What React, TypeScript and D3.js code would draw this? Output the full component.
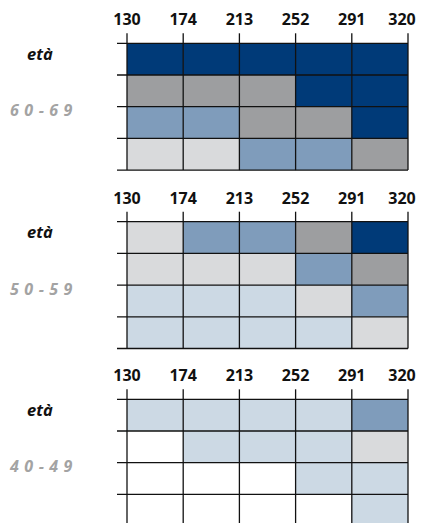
import * as d3 from "d3";
import React from "react";

// column boundaries (tick labels along the top of each panel)
const tickLabels = ["130", "174", "213", "252", "291", "320"];
const rowNames = ["r1", "r2", "r3", "r4"];

// cell levels per panel: 0 white, 1 light blue, 2 light gray, 3 mid blue, 4 gray, 5 navy
const levels60 = [
  [5, 5, 5, 5, 5],
  [4, 4, 4, 5, 5],
  [3, 3, 4, 4, 5],
  [2, 2, 3, 3, 4],
];
const levels50 = [
  [2, 3, 3, 4, 5],
  [2, 2, 2, 3, 4],
  [1, 1, 1, 2, 3],
  [1, 1, 1, 1, 2],
];
const levels40 = [
  [1, 1, 1, 1, 3],
  [0, 1, 1, 1, 2],
  [0, 0, 0, 1, 1],
  [0, 0, 0, 0, 1],
];
const ageLabels = ["60-69", "50-59", "40-49"];

const palette = ["#ffffff", "#ccd9e4", "#d9dadc", "#7f9cbb", "#9d9ea0", "#003a78"];

const W = 423;
const H = 523;
const panelTops = [43.3, 221.7, 399.3];
const rowH = 31.7;

const x = d3.scalePoint<string>().domain(tickLabels).range([127, 408]);

const Panel: React.FC<{ top: number; levels: number[][]; age: string }> = ({
  top,
  levels,
  age,
}) => {
  const y = d3
    .scaleBand<string>()
    .domain(rowNames)
    .range([top, top + rowH * rowNames.length])
    .padding(0);
  const bottom = top + rowH * rowNames.length;
  const step = x.step();
  return (
    <g>
      {levels.map((row, ri) =>
        row.map((lv, ci) => (
          <rect
            key={`${ri}-${ci}`}
            x={x(tickLabels[ci])!}
            y={y(rowNames[ri])!}
            width={step}
            height={y.bandwidth()}
            fill={palette[lv]}
          />
        )),
      )}
      {/* horizontal lines with left ticks */}
      {[...rowNames.map((r) => y(r)!), bottom].map((yy, i) => (
        <line key={`h${i}`} x1={117} x2={408} y1={yy} y2={yy} stroke="#111" strokeWidth={1.3} />
      ))}
      {/* vertical lines with top ticks */}
      {tickLabels.map((t) => (
        <line
          key={`v${t}`}
          x1={x(t)!}
          x2={x(t)!}
          y1={top - 10}
          y2={bottom}
          stroke="#111"
          strokeWidth={1.3}
        />
      ))}
      {tickLabels.map((t, i) => (
        <text
          key={`t${t}`}
          x={x(t)! + (i === tickLabels.length - 1 ? -6 : 0)}
          y={top - 18}
          textAnchor="middle"
          fontFamily="'Open Sans', sans-serif"
          fontWeight={700}
          fontSize={16}
          fill="#111"
        >
          {t}
        </text>
      ))}
      <text
        x={40}
        y={top + 16.5}
        textAnchor="middle"
        fontFamily="'Open Sans', sans-serif"
        fontWeight={700}
        fontStyle="italic"
        fontSize={16.5}
        fill="#111"
      >
        età
      </text>
      <text
        x={10}
        y={top + 73}
        textAnchor="start"
        fontFamily="'Open Sans', sans-serif"
        fontWeight={700}
        fontStyle="italic"
        fontSize={16}
        letterSpacing={5.5}
        fill="#a3a3a3"
      >
        {age}
      </text>
    </g>
  );
};

const App: React.FC = () => {
  const panels = [levels60, levels50, levels40];
  return (
    <svg
      width={W}
      height={H}
      style={{ position: "absolute", left: 0, top: 0, background: "#fff" }}
    >
      {panels.map((lv, i) => (
        <Panel key={i} top={panelTops[i]} levels={lv} age={ageLabels[i]} />
      ))}
    </svg>
  );
};

export default App;
